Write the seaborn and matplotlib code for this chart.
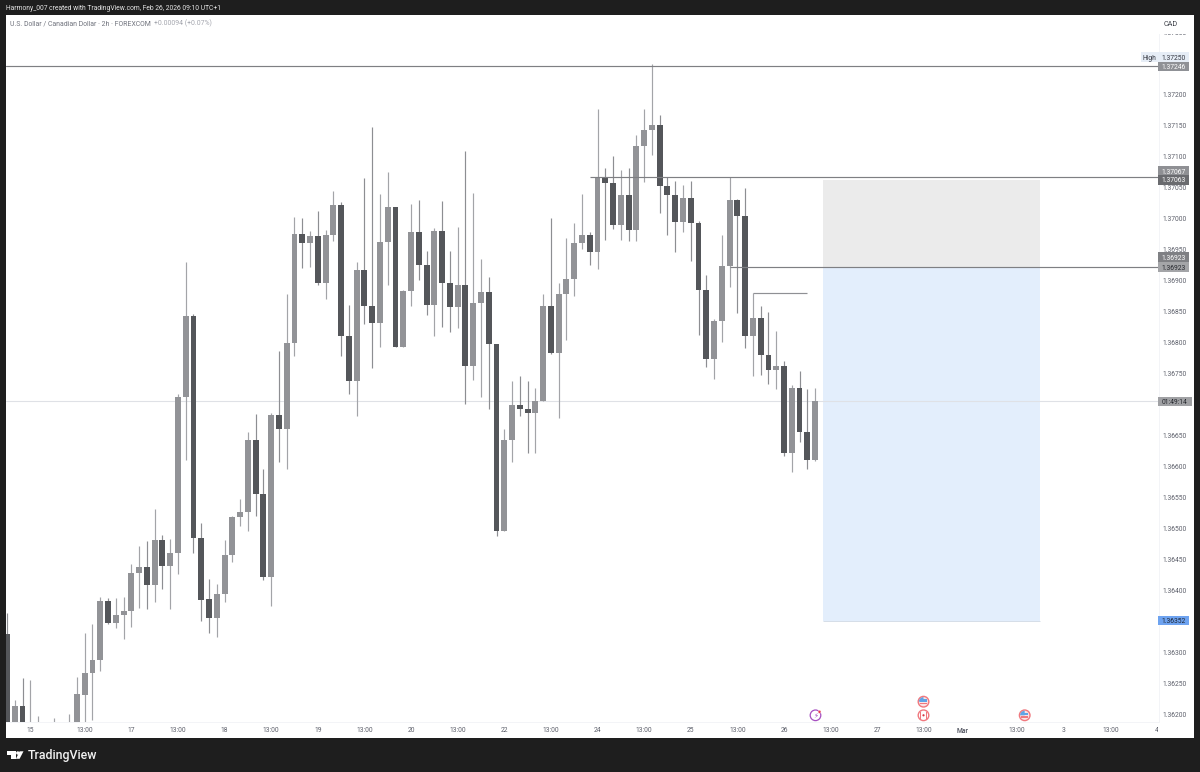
import numpy as np
import pandas as pd
import seaborn as sns
import matplotlib.pyplot as plt
from matplotlib.patches import Rectangle, Polygon, Circle, Wedge
from matplotlib.transforms import Bbox, TransformedBbox, IdentityTransform

# 2h candles
opens = [1.36331, 1.36180, 1.36215, 1.36180, 1.36180, 1.36175, 1.36180, 1.36175, 1.36180, 1.36180,
         1.36233, 1.36268, 1.36288, 1.36384, 1.36348, 1.36362, 1.36367, 1.36429, 1.36439, 1.36410,
         1.36482, 1.36441, 1.36461, 1.36713, 1.36844, 1.36486, 1.36387, 1.36357, 1.36395, 1.36458,
         1.36520, 1.36528, 1.36643, 1.36557, 1.36423, 1.36684, 1.36661, 1.36800, 1.36976, 1.36962,
         1.36973, 1.36896, 1.36974, 1.37022, 1.36811, 1.36738, 1.36918, 1.36859, 1.36833, 1.36963,
         1.37019, 1.36794, 1.36884, 1.36979, 1.36926, 1.36861, 1.36980, 1.36897, 1.36858, 1.36893,
         1.36763, 1.36865, 1.36882, 1.36798, 1.36497, 1.36643, 1.36700, 1.36694, 1.36687, 1.36707,
         1.36860, 1.36784, 1.36879, 1.36903, 1.36962, 1.36974, 1.36946, 1.37067, 1.37058, 1.36990,
         1.37039, 1.36983, 1.37118, 1.37144, 1.37152, 1.37053, 1.37038, 1.36995, 1.37034, 1.36994,
         1.36886, 1.36774, 1.36836, 1.36924, 1.37031, 1.37005, 1.36811, 1.36840, 1.36780, 1.36757,
         1.36763, 1.36623, 1.36728, 1.36656, 1.36611]
closes = [1.36180, 1.36215, 1.36185, 1.36185, 1.36185, 1.36178, 1.36185, 1.36178, 1.36185, 1.36234,
          1.36268, 1.36288, 1.36384, 1.36348, 1.36362, 1.36367, 1.36429, 1.36439, 1.36410, 1.36482,
          1.36441, 1.36461, 1.36713, 1.36844, 1.36486, 1.36385, 1.36357, 1.36395, 1.36458, 1.36520,
          1.36528, 1.36643, 1.36557, 1.36423, 1.36684, 1.36661, 1.36800, 1.36976, 1.36962, 1.36973,
          1.36896, 1.36974, 1.37022, 1.36811, 1.36738, 1.36918, 1.36859, 1.36833, 1.36963, 1.37019,
          1.36794, 1.36884, 1.36979, 1.36926, 1.36861, 1.36980, 1.36897, 1.36858, 1.36893, 1.36763,
          1.36865, 1.36882, 1.36798, 1.36497, 1.36643, 1.36700, 1.36694, 1.36687, 1.36707, 1.36860,
          1.36784, 1.36879, 1.36903, 1.36962, 1.36974, 1.36946, 1.37067, 1.37058, 1.36990, 1.37039,
          1.36983, 1.37118, 1.37144, 1.37152, 1.37053, 1.37038, 1.36995, 1.37034, 1.36993, 1.36886,
          1.36774, 1.36836, 1.36924, 1.37031, 1.37005, 1.36811, 1.36840, 1.36780, 1.36757, 1.36763,
          1.36623, 1.36728, 1.36656, 1.36611, 1.36706]
highs = [1.36365, 1.36224, 1.36260, 1.36256, 1.36198, 1.36180, 1.36195, 1.36180, 1.36202, 1.36261,
         1.36332, 1.36346, 1.36390, 1.36389, 1.36389, 1.36391, 1.36444, 1.36473, 1.36481, 1.36532,
         1.36491, 1.36484, 1.36717, 1.36930, 1.36846, 1.36509, 1.36419, 1.36411, 1.36482, 1.36521,
         1.36548, 1.36656, 1.36685, 1.36596, 1.36687, 1.36787, 1.36879, 1.37003, 1.37002, 1.36981,
         1.37013, 1.36983, 1.37045, 1.37027, 1.36862, 1.36930, 1.37066, 1.37149, 1.37041, 1.37075,
         1.37020, 1.36885, 1.37024, 1.37030, 1.36949, 1.36985, 1.37029, 1.36949, 1.36987, 1.37109,
         1.37042, 1.36936, 1.36907, 1.36799, 1.36661, 1.36739, 1.36747, 1.36739, 1.36727, 1.36879,
         1.37002, 1.36897, 1.36969, 1.36993, 1.37041, 1.36979, 1.37178, 1.37082, 1.37102, 1.37079,
         1.37083, 1.37136, 1.37177, 1.37250, 1.37168, 1.37068, 1.37061, 1.37055, 1.37061, 1.36997,
         1.36910, 1.36838, 1.36974, 1.37067, 1.37033, 1.37050, 1.36880, 1.36860, 1.36850, 1.36820,
         1.36771, 1.36733, 1.36755, 1.36725, 1.36727]
lows = [1.36170, 1.36170, 1.36170, 1.36170, 1.36170, 1.36170, 1.36170, 1.36170, 1.36170, 1.36170,
        1.36180, 1.36192, 1.36271, 1.36347, 1.36340, 1.36323, 1.36342, 1.36373, 1.36371, 1.36383,
        1.36403, 1.36371, 1.36427, 1.36611, 1.36462, 1.36352, 1.36332, 1.36325, 1.36383, 1.36446,
        1.36505, 1.36496, 1.36521, 1.36418, 1.36375, 1.36608, 1.36596, 1.36779, 1.36921, 1.36923,
        1.36894, 1.36871, 1.36965, 1.36779, 1.36718, 1.36682, 1.36831, 1.36759, 1.36794, 1.36894,
        1.36793, 1.36793, 1.36859, 1.36901, 1.36845, 1.36812, 1.36825, 1.36817, 1.36824, 1.36702,
        1.36740, 1.36713, 1.36694, 1.36489, 1.36496, 1.36608, 1.36683, 1.36623, 1.36622, 1.36706,
        1.36783, 1.36679, 1.36805, 1.36876, 1.36952, 1.36925, 1.36919, 1.36966, 1.36984, 1.36966,
        1.36965, 1.36965, 1.37060, 1.37104, 1.37010, 1.36974, 1.36947, 1.36979, 1.36932, 1.36813,
        1.36761, 1.36742, 1.36801, 1.36890, 1.36848, 1.36792, 1.36747, 1.36748, 1.36734, 1.36726,
        1.36617, 1.36592, 1.36641, 1.36596, 1.36610]

# time axis
time_ticks = [3, 10, 16, 22, 28, 34, 40, 46, 52, 58, 64, 70, 76, 82, 88, 94, 100, 106, 112, 118, 123, 130, 136, 142, 148]
time_labels = ['15', '13:00', '17', '13:00', '18', '13:00', '19', '13:00', '20', '13:00', '22', '13:00', '24',
               '13:00', '25', '13:00', '26', '13:00', '27', '13:00', 'Mar', '13:00', '3', '13:00', '4']

# price axis, the ticks hidden behind tags are left out
price_ticks = [1.3620, 1.3625, 1.3630, 1.3640, 1.3645, 1.3650, 1.3655, 1.3660, 1.3665, 1.3675,
               1.3680, 1.3685, 1.3690, 1.3695, 1.3700, 1.3705, 1.3710, 1.3715, 1.3720, 1.3730]

# price levels drawn on the chart
high_level = 1.37246
resist_level = 1.37067
mid_level = 1.36923
short_level = 1.36880
last_price = 1.36706
box_top = 1.37063
box_mid = 1.36923
box_bottom = 1.36352
box_start = 105
box_end = 133

W, H = 1200, 772
BG = '#1e1e1e'
LIGHT = '#929397'
DARK = '#54565a'
TXT = '#5d606b'

sns.set_theme(style='white')
plt.rcParams['font.family'] = ['Roboto', 'DejaVu Sans']


def fx(px):
    return px / W


def fy(py):
    return 1 - py / H


df = pd.DataFrame({'bar': np.arange(len(opens)), 'open': opens, 'high': highs, 'low': lows, 'close': closes})
df['bottom'] = df[['open', 'close']].min(axis=1)
df['body'] = (df['close'] - df['open']).abs()
up = df[df['close'] >= df['open']]
down = df[df['close'] < df['open']]

fig = plt.figure(figsize=(W / 100, H / 100), dpi=100, facecolor=BG)
# white panel behind the chart and both axes
fig.patches.append(Rectangle((fx(5.5), fy(738)), fx(1188.5), 723 / H, transform=fig.transFigure,
                             facecolor='white', edgecolor='none', zorder=-5))
ax = fig.add_axes([fx(5.5), fy(722), fx(1153.5), 707 / H])
ax.set_facecolor('white')

# position box
ax.add_patch(Rectangle((box_start, box_mid), box_end - box_start, box_top - box_mid, facecolor='#ebebeb', edgecolor='none', zorder=0))
ax.add_patch(Rectangle((box_start, box_bottom), box_end - box_start, box_mid - box_bottom, facecolor='#e3eefc', edgecolor='none', zorder=0))
ax.hlines(box_bottom, box_start, box_end, color='#d5dde8', lw=0.7, zorder=0.5)

# current price line
ax.axhline(last_price, color='#dfe1e6', lw=0.8, zorder=0.6)

# wicks
ax.vlines(up['bar'], up['low'], up['high'], color='#a3a4a8', lw=0.85, zorder=2)
ax.vlines(down['bar'], down['low'], down['high'], color='#8d8e92', lw=0.85, zorder=2)

# bodies
sns.barplot(data=up, x='bar', y='body', bottom=up['bottom'].values, native_scale=True, width=0.76,
            color=LIGHT, saturation=1, errorbar=None, linewidth=0, ax=ax, zorder=3)
sns.barplot(data=down, x='bar', y='body', bottom=down['bottom'].values, native_scale=True, width=0.76,
            color=DARK, saturation=1, errorbar=None, linewidth=0, ax=ax, zorder=3)

# horizontal levels
ax.axhline(high_level, color='#7e7f83', lw=0.85, zorder=4)
ax.hlines(resist_level, 75.0, 149, color='#7e7f83', lw=0.85, zorder=4)
ax.hlines(mid_level, 93.0, 149, color='#7e7f83', lw=0.85, zorder=4)
ax.hlines(short_level, 96.0, 103, color='#8f9094', lw=0.85, zorder=4)

ax.set_xlim((5.5 - 7) / 7.77, (1159 - 7) / 7.77)
ax.set_ylim(1.361887, 1.37329)
ax.set_xlabel('')
ax.set_ylabel('')

ax.yaxis.tick_right()
ax.set_yticks(price_ticks)
ax.set_yticklabels([f'{v:.5f}' for v in price_ticks])
ax.set_xticks(time_ticks)
ax.set_xticklabels(time_labels)
ax.tick_params(axis='both', length=0, labelsize=4.85, labelcolor=TXT)
ax.tick_params(axis='y', pad=2.6)
ax.tick_params(axis='x', pad=3.4)
for lbl in ax.get_xticklabels():
    if lbl.get_text() == 'Mar':
        lbl.set_fontweight('bold')
    lbl.set_clip_on(True)
    lbl.set_clip_box(TransformedBbox(Bbox([[0, 0], [1158, H]]), IdentityTransform()))
for side in ['top', 'left']:
    ax.spines[side].set_visible(False)
for side in ['bottom', 'right']:
    ax.spines[side].set_color('#f3f4f7')
    ax.spines[side].set_linewidth(0.7)


def price_tag(py, text, face, color='white', x0=1158, x1=1189, h=9.5):
    fig.add_artist(Rectangle((fx(x0), fy(py + h / 2)), (x1 - x0) / W, h / H, transform=fig.transFigure,
                             facecolor=face, edgecolor='none', zorder=6))
    fig.text(fx((x0 + x1) / 2), fy(py), text, color=color, fontsize=4.85, ha='center', va='center_baseline', zorder=7)


# labels on the price axis
fig.add_artist(Rectangle((fx(1158), fy(34)), 36 / W, 19 / H, transform=fig.transFigure, facecolor='white', edgecolor='none', zorder=6))
fig.text(fx(1171), fy(25), 'CAD', color='#3b3e47', fontsize=5.2, ha='center', va='center', zorder=7)
price_tag(57, 'High', '#e6edf6', color='#333640', x0=1141, x1=1158, h=9)
price_tag(57, '1.37250', '#e6edf6', color='#333640', x0=1158, x1=1189, h=9)
price_tag(66.5, '1.37246', '#8f9196')
price_tag(171, '1.37067', '#8f9094')
price_tag(180, '1.37063', '#6a6b6f')
price_tag(257, '1.36923', '#7f8084')
price_tag(267, '1.36923', '#a4a5a8', color='#26282e')
price_tag(401.5, '01:49:14', '#a0a1a4', color='#26282e', x1=1191.5)
price_tag(620.5, '1.36352', '#6ea3f0', color='#1c2433')

# overlay in pixel coordinates for icons and logo
icon = fig.add_axes([0, 0, 1, 1], facecolor='none')
icon.set_xlim(0, W)
icon.set_ylim(H, 0)
icon.axis('off')
icon.set_zorder(8)

# economic calendar icons
RED = '#f0787e'
icon.add_patch(Circle((815.5, 715.3), 5.3, facecolor='white', edgecolor='#a64fc0', lw=0.9))
icon.text(815.5, 715.5, '\u26a1', family='DejaVu Sans', color='#a64fc0', fontsize=5, ha='center', va='center')
icon.add_patch(Circle((819.5, 711.8), 1.5, facecolor='#e8384f', edgecolor='white', lw=0.3))
for px, py in [(923.5, 701.7), (1024.7, 715.3)]:
    icon.add_patch(Circle((px, py), 5.3, facecolor='#fbe3e4', edgecolor=RED, lw=1))
    icon.add_patch(Wedge((px, py), 4.6, 180, 270, facecolor='#5fa4e6', edgecolor='none'))
    icon.add_patch(Rectangle((px - 3.5, py - 2.5), 7, 2.5, facecolor='#5fa4e6', edgecolor='none'))
    icon.add_patch(Rectangle((px - 3.5, py + 1), 7, 1.3, facecolor=RED, edgecolor='none'))
icon.add_patch(Circle((923.5, 715.3), 5.3, facecolor='white', edgecolor=RED, lw=1))
icon.add_patch(Rectangle((919.6, 711.5), 1.5, 7.6, facecolor=RED, edgecolor='none'))
icon.add_patch(Rectangle((925.9, 711.5), 1.5, 7.6, facecolor=RED, edgecolor='none'))
icon.add_patch(Circle((923.5, 715.3), 1.1, facecolor='#d83a45', edgecolor='none'))

# TradingView logo
icon.add_patch(Polygon([(6.7, 751.3), (15.5, 751.3), (15.5, 758.8), (11.2, 758.8), (11.2, 754.8), (6.7, 754.8)],
                       facecolor='white', edgecolor='none'))
icon.add_patch(Circle((17.8, 753), 1.7, facecolor='white', edgecolor='none'))
icon.add_patch(Polygon([(19.6, 751.3), (23.5, 751.3), (19.6, 758.8), (15.9, 758.8)], facecolor='white', edgecolor='none'))

# header
fig.text(fx(5.5), fy(8), 'Harmony_007 created with TradingView.com, Feb 26, 2026 09:10 UTC+1', color='#e6e6e6', fontsize=4.9, va='center')
fig.text(fx(10), fy(23.5), 'U.S. Dollar / Canadian Dollar \u00b7 2h \u00b7 FOREXCOM', color='#70737d', fontsize=4.95, va='center')
fig.text(fx(154), fy(23.5), '+0.00094 (+0.07%)', color='#a4a6ae', fontsize=4.95, va='center')
fig.text(fx(28), fy(755.3), 'TradingView', color='#f2f2f2', fontsize=8.9, fontweight='medium', va='center', zorder=9)

fig.savefig('out.png', dpi=100, facecolor=BG)
